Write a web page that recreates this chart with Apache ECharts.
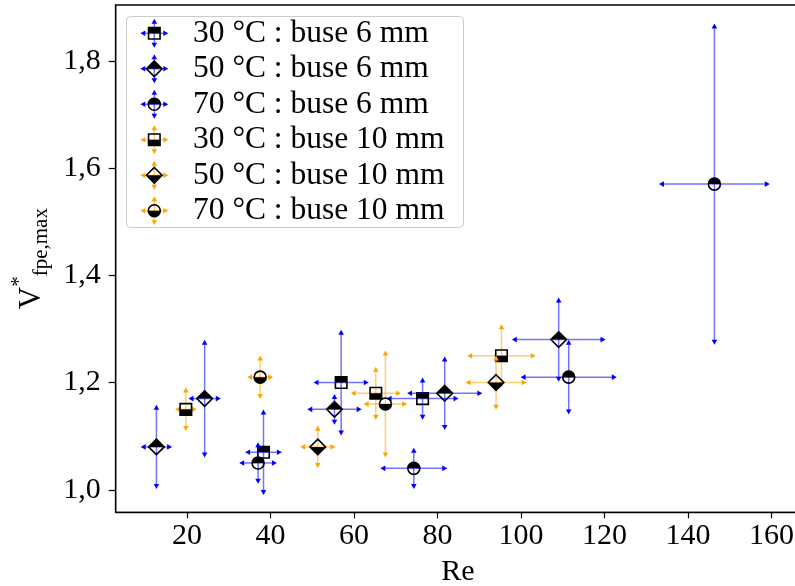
<!DOCTYPE html>
<html><head><meta charset="utf-8">
<script src="https://cdn.jsdelivr.net/npm/echarts@6/dist/echarts.min.js"></script>
<style>html,body{margin:0;padding:0;background:#fff}#c{width:795px;height:586px}</style>
</head><body><div id="c"></div>
<script>
// ---- data ----
const seriesNames = ['30 °C : buse 6 mm','50 °C : buse 6 mm','70 °C : buse 6 mm','30 °C : buse 10 mm','50 °C : buse 10 mm','70 °C : buse 10 mm'];
const b30_x = [38.3, 56.9, 76.4];
const b30_y = [1.07, 1.20, 1.17];
const b30_xe = [3.7, 5.9, 7.9];
const b30_ye = [0.074, 0.093, 0.034];
const b50_x = [12.65, 24.2, 55.3, 81.7, 109.0];
const b50_y = [1.08, 1.17, 1.15, 1.18, 1.28];
const b50_xe = [3.05, 3.15, 5.8, 8.3, 10.5];
const b50_ye = [0.073, 0.104, 0.023, 0.063, 0.073];
const b70_x = [37.0, 74.3, 111.4, 146.3];
const b70_y = [1.05, 1.04, 1.21, 1.57];
const b70_xe = [3.8, 7.3, 10.8, 12.55];
const b70_ye = [0.033, 0.033, 0.064, 0.294];
const o30_x = [19.7, 65.2, 95.3];
const o30_y = [1.15, 1.18, 1.25];
const o30_xe = [1.85, 5.3, 7.5];
const o30_ye = [0.035, 0.044, 0.053];
const o50_x = [51.3, 94.0];
const o50_y = [1.08, 1.20];
const o50_xe = [3.5, 6.6];
const o50_ye = [0.034, 0.045];
const o70_x = [37.5, 67.5];
const o70_y = [1.21, 1.16];
const o70_xe = [2.4, 4.5];
const o70_ye = [0.035, 0.094];
const xTicks = [20, 40, 60, 80, 100, 120, 140, 160];
const yTicks = [1.0, 1.2, 1.4, 1.6, 1.8];
const yTickLabels = ['1,0', '1,2', '1,4', '1,6', '1,8'];

// ---- style ----
const FONT = '"Liberation Serif", "DejaVu Serif", serif';
const BLUE = '#0000ff', ORANGE = '#ffa500';

function arrow(x, y, dir, color) {
  const L = 3, B = 2, W = 2.8;
  let pts;
  if (dir === 'up') pts = [[x, y - L], [x - W, y + B], [x + W, y + B]];
  else if (dir === 'down') pts = [[x, y + L], [x - W, y - B], [x + W, y - B]];
  else if (dir === 'left') pts = [[x - L, y], [x + B, y - W], [x + B, y + W]];
  else pts = [[x + L, y], [x - B, y - W], [x - B, y + W]];
  return { type: 'polygon', shape: { points: pts }, style: { fill: color, stroke: null } };
}
function errorParts(c, l, r, t, b, color) {
  const ls = { stroke: color, lineWidth: 1.5, opacity: 0.55 };
  return [
    { type: 'line', shape: { x1: l[0], y1: l[1], x2: r[0], y2: r[1] }, style: ls },
    { type: 'line', shape: { x1: t[0], y1: t[1], x2: b[0], y2: b[1] }, style: ls },
    arrow(l[0], l[1], 'left', color), arrow(r[0], r[1], 'right', color),
    arrow(t[0], t[1], 'up', color), arrow(b[0], b[1], 'down', color)
  ];
}
function markerParts(cx, cy, shape, fillTop) {
  const out = [];
  const edge = { stroke: '#000', lineWidth: 1.6, fill: null };
  if (shape === 'square') {
    const s = 11.5;
    out.push({ type: 'rect', shape: { x: cx - s / 2, y: fillTop ? cy - s / 2 : cy, width: s, height: s / 2 }, style: { fill: '#000' } });
    out.push({ type: 'rect', shape: { x: cx - s / 2, y: cy - s / 2, width: s, height: s }, style: edge });
  } else if (shape === 'diamond') {
    const h = 7.8;
    const tri = fillTop ? [[cx - h, cy], [cx, cy - h], [cx + h, cy]] : [[cx - h, cy], [cx, cy + h], [cx + h, cy]];
    out.push({ type: 'polygon', shape: { points: tri }, style: { fill: '#000' } });
    out.push({ type: 'polygon', shape: { points: [[cx, cy - h], [cx + h, cy], [cx, cy + h], [cx - h, cy]] }, style: edge });
  } else {
    const r = 6;
    out.push({ type: 'sector', shape: { cx: cx, cy: cy, r0: 0, r: r, startAngle: fillTop ? Math.PI : 0, endAngle: fillTop ? 2 * Math.PI : Math.PI, clockwise: true }, style: { fill: '#000' } });
    out.push({ type: 'circle', shape: { cx: cx, cy: cy, r: r }, style: edge });
  }
  return out;
}

function makeSeries(name, color, shape, fillTop, xs, ys, xe, ye) {
  return {
    type: 'custom', name: name, coordinateSystem: 'cartesian2d',
    encode: { x: 0, y: 1 },
    data: xs.map((x, i) => [x, ys[i], xe[i], ye[i]]),
    renderItem: function (params, api) {
      const x = api.value(0), y = api.value(1), dx = api.value(2), dy = api.value(3);
      const c = api.coord([x, y]);
      const l = api.coord([x - dx, y]), r = api.coord([x + dx, y]);
      const t = api.coord([x, y + dy]), b = api.coord([x, y - dy]);
      return { type: 'group', children: errorParts(c, l, r, t, b, color).concat(markerParts(c[0], c[1], shape, fillTop)) };
    }
  };
}

const specs = [
  [BLUE, 'square', true, b30_x, b30_y, b30_xe, b30_ye],
  [BLUE, 'diamond', true, b50_x, b50_y, b50_xe, b50_ye],
  [BLUE, 'circle', true, b70_x, b70_y, b70_xe, b70_ye],
  [ORANGE, 'square', false, o30_x, o30_y, o30_xe, o30_ye],
  [ORANGE, 'diamond', false, o50_x, o50_y, o50_xe, o50_ye],
  [ORANGE, 'circle', false, o70_x, o70_y, o70_xe, o70_ye]
];
const series = specs.map((s, i) => makeSeries(seriesNames[i], s[0], s[1], s[2], s[3], s[4], s[5], s[6]));

// legend drawn as graphic
const legendEls = [{ type: 'rect', shape: { x: 126.5, y: 16.5, width: 337, height: 211, r: 4 }, style: { fill: 'rgba(255,255,255,0.8)', stroke: '#cccccc', lineWidth: 1 }, z: 100 }];
specs.forEach((s, i) => {
  const cy = 33.3 + i * 35.5, cx = 154.3;
  const parts = errorParts([cx, cy], [cx - 11, cy], [cx + 11, cy], [cx, cy - 11.5], [cx, cy + 11.5], s[0]).concat(markerParts(cx, cy, s[1], s[2]));
  parts.forEach(p => { p.z = 101; legendEls.push(p); });
  legendEls.push({ type: 'text', x: 193, y: cy, z: 101, style: { text: seriesNames[i], font: '31.5px ' + FONT, fill: '#000', textVerticalAlign: 'middle', textAlign: 'left' } });
});

const chart = echarts.init(document.getElementById('c'), null, { renderer: 'canvas' });
chart.setOption({
  animation: false,
  backgroundColor: '#fff',
  grid: { left: 115.7, top: 5, right: -5, bottom: 73.7, show: true, borderColor: '#000', borderWidth: 1.3, backgroundColor: 'transparent', outerBoundsMode: 'none' },
  xAxis: {
    type: 'value', min: 2.9, max: 166.8,
    name: 'Re', nameLocation: 'middle', nameGap: 45,
    nameTextStyle: { fontFamily: FONT, fontSize: 30, color: '#000' },
    axisLine: { show: true, onZero: false, lineStyle: { color: '#000', width: 1.3 } },
    axisTick: { show: true, length: 6, customValues: xTicks, lineStyle: { color: '#000', width: 1.2 } },
    axisLabel: { customValues: xTicks, fontFamily: FONT, fontSize: 30, color: '#000', margin: 9 },
    splitLine: { show: false }
  },
  yAxis: {
    type: 'value', min: 0.958, max: 1.904,
    name: '{v|V}{sup|*}{sub|fpe,max}', nameLocation: 'middle', nameGap: 60, nameRotate: 90,
    nameTextStyle: {
      color: '#000',
      rich: {
        v: { fontFamily: FONT, fontSize: 31, color: '#000' },
        sup: { fontFamily: FONT, fontSize: 21, color: '#000', padding: [0, 0, 24, 0] },
        sub: { fontFamily: FONT, fontSize: 21, color: '#000', padding: [20, 0, 0, 0] }
      }
    },
    axisLine: { show: true, onZero: false, lineStyle: { color: '#000', width: 1.3 } },
    axisTick: { show: true, length: 7, customValues: yTicks, lineStyle: { color: '#000', width: 1.2 } },
    axisLabel: {
      customValues: yTicks, fontFamily: FONT, fontSize: 30, color: '#000', margin: 15,
      formatter: function (v) { const i = yTicks.findIndex(t => Math.abs(t - v) < 1e-6); return i >= 0 ? yTickLabels[i] : ''; }
    },
    splitLine: { show: false }
  },
  graphic: { elements: legendEls },
  series: series
});
</script></body></html>
